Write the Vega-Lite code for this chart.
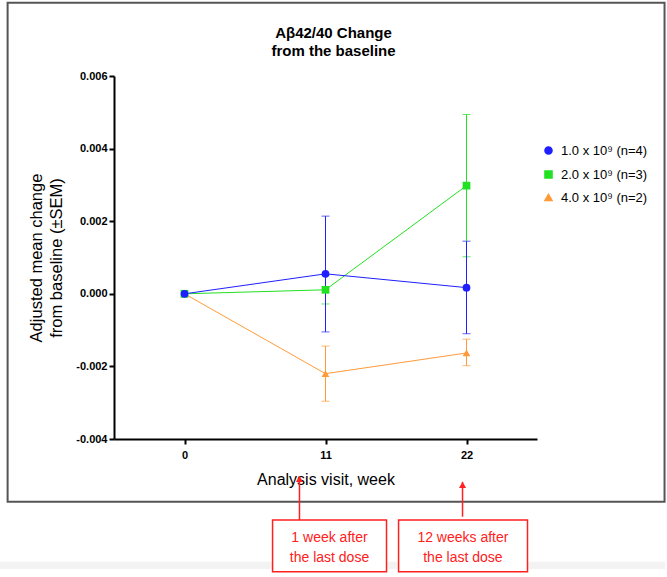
{
  "$schema": "https://vega.github.io/schema/vega-lite/v6.json",
  "autosize": "none",
  "width": 423,
  "height": 363,
  "padding": {"left": 114, "top": 76, "right": 130, "bottom": 134},
  "background": "white",
  "config": {
    "view": {"stroke": null},
    "font": "Liberation Sans",
    "axis": {
      "domainColor": "black", "domainWidth": 2, "tickColor": "black", "tickWidth": 2, "tickSize": 5,
      "labelFont": "Liberation Sans", "labelFontWeight": "bold", "labelFontSize": 11, "labelColor": "black",
      "titleFont": "Liberation Sans", "titleFontWeight": "normal", "titleFontSize": 16, "titleColor": "black",
      "grid": false
    }
  },
  "title": {
    "text": ["Aβ42/40 Change", "from the baseline"],
    "fontSize": 15, "fontWeight": "bold", "font": "Liberation Sans", "color": "black",
    "anchor": "middle", "offset": -57, "dx": 8, "lineHeight": 18
  },
  "datasets": {
    "series": [
      {"group": "4.0 x 10⁹ (n=2)", "week": 0, "mean": 0, "lo": 0, "hi": 0},
      {"group": "4.0 x 10⁹ (n=2)", "week": 11, "mean": -0.0022, "lo": -0.00296, "hi": -0.00144},
      {"group": "4.0 x 10⁹ (n=2)", "week": 22, "mean": -0.00163, "lo": -0.00198, "hi": -0.00125},
      {"group": "2.0 x 10⁹ (n=3)", "week": 0, "mean": 0, "lo": 0, "hi": 0},
      {"group": "2.0 x 10⁹ (n=3)", "week": 11, "mean": 0.00011, "lo": -0.00028, "hi": 0.0005},
      {"group": "2.0 x 10⁹ (n=3)", "week": 22, "mean": 0.00298, "lo": 0.00102, "hi": 0.00494},
      {"group": "1.0 x 10⁹ (n=4)", "week": 0, "mean": 0, "lo": 0, "hi": 0},
      {"group": "1.0 x 10⁹ (n=4)", "week": 11, "mean": 0.00055, "lo": -0.00105, "hi": 0.00214},
      {"group": "1.0 x 10⁹ (n=4)", "week": 22, "mean": 0.00017, "lo": -0.0011, "hi": 0.00145}
    ],
    "frame": [
      {"x": -13.8, "x2": 37.45, "y": 0.00802, "y2": -0.00573}
    ],
    "strip": [
      {"x": -16, "x2": 37.5, "y": -0.00738, "y2": -0.00758}
    ],
    "boxes": [
      {"x": 6.87, "x2": 15.76, "y": -0.00623, "y2": -0.00766, "cx": 11.31, "cy": -0.00672, "label": "1 week after\nthe last dose"},
      {"x": 16.7, "x2": 26.76, "y": -0.00623, "y2": -0.00766, "cx": 21.72, "cy": -0.00672, "label": "12 weeks after\nthe last dose"}
    ],
    "arrows": [
      {"x": 8.97, "tip": -0.00502, "base": -0.00623},
      {"x": 21.69, "tip": -0.00518, "base": -0.00614}
    ]
  },
  "layer": [
    {
      "data": {"name": "frame"},
      "mark": {"type": "rect", "fill": null, "stroke": "#555555", "strokeWidth": 2},
      "encoding": {
        "x": {"field": "x", "type": "quantitative", "scale": {"domain": [-5.5, 27.5], "nice": false, "zero": false}},
        "x2": {"field": "x2"},
        "y": {"field": "y", "type": "quantitative", "scale": {"domain": [-0.004, 0.006], "nice": false, "zero": false}},
        "y2": {"field": "y2"}
      }
    },
    {
      "data": {"name": "strip"},
      "mark": {"type": "rect", "fill": "#f3f3f3", "stroke": null},
      "encoding": {
        "x": {"field": "x", "type": "quantitative"},
        "x2": {"field": "x2"},
        "y": {"field": "y", "type": "quantitative"},
        "y2": {"field": "y2"}
      }
    },
    {
      "data": {"name": "series"},
      "transform": [{"filter": "datum.week > 0"}],
      "mark": {"type": "errorbar", "ticks": {"size": 8, "thickness": 1}, "thickness": 1},
      "encoding": {
        "x": {"field": "week", "type": "quantitative", "title": "Analysis visit, week"},
        "y": {"field": "lo", "type": "quantitative", "title": ["Adjusted mean change", "from baseline (±SEM)"]},
        "y2": {"field": "hi"},
        "color": {"field": "group", "type": "nominal"}
      }
    },
    {
      "data": {"name": "series"},
      "mark": {"type": "line", "strokeWidth": 1},
      "encoding": {
        "x": {"field": "week", "type": "quantitative", "title": "Analysis visit, week",
          "axis": {"values": [0, 11, 22], "titlePadding": 11, "labelPadding": 5}},
        "y": {"field": "mean", "type": "quantitative", "title": ["Adjusted mean change", "from baseline (±SEM)"],
          "axis": {"values": [-0.004, -0.002, 0, 0.002, 0.004, 0.006], "labelExpr": "replace(format(datum.value, '.3f'), '−', '-')", "titlePadding": 11, "titleLineHeight": 20, "titleFontSize": 16.5}},
        "color": {"field": "group", "type": "nominal"}
      }
    },
    {
      "data": {"name": "series"},
      "mark": {"type": "point", "filled": true, "opacity": 1, "size": 60},
      "encoding": {
        "x": {"field": "week", "type": "quantitative", "title": "Analysis visit, week"},
        "y": {"field": "mean", "type": "quantitative", "title": ["Adjusted mean change", "from baseline (±SEM)"]},
        "color": {"field": "group", "type": "nominal",
          "scale": {"domain": ["1.0 x 10⁹ (n=4)", "2.0 x 10⁹ (n=3)", "4.0 x 10⁹ (n=2)"], "range": ["#1f1fff", "#22e022", "#ff9a3a"]},
          "legend": {"orient": "none", "legendX": 428, "legendY": 68, "title": null, "labelFontSize": 13, "labelFont": "Liberation Sans", "labelColor": "black", "symbolSize": 50, "symbolOpacity": 1, "rowPadding": 9, "labelOffset": 6,
            "encode": {"symbols": {"update": {"opacity": {"value": 1}, "fillOpacity": {"value": 1}, "strokeOpacity": {"value": 1}}}}}},
        "shape": {"field": "group", "type": "nominal",
          "scale": {"domain": ["1.0 x 10⁹ (n=4)", "2.0 x 10⁹ (n=3)", "4.0 x 10⁹ (n=2)"], "range": ["circle", "square", "triangle-up"]},
          "legend": {"orient": "none", "legendX": 428, "legendY": 68, "title": null, "labelFontSize": 13, "labelFont": "Liberation Sans", "labelColor": "black", "symbolSize": 50, "symbolOpacity": 1, "rowPadding": 9, "labelOffset": 6,
            "encode": {"symbols": {"update": {"opacity": {"value": 1}, "fillOpacity": {"value": 1}, "strokeOpacity": {"value": 1}}}}}}
      }
    },
    {
      "data": {"name": "arrows"},
      "mark": {"type": "rule", "color": "#ff2020", "strokeWidth": 1.5},
      "encoding": {
        "x": {"field": "x", "type": "quantitative"},
        "y": {"field": "tip", "type": "quantitative"},
        "y2": {"field": "base"}
      }
    },
    {
      "data": {"name": "arrows"},
      "mark": {"type": "point", "shape": "triangle-up", "filled": true, "color": "#ff2020", "size": 50, "opacity": 1, "yOffset": 3},
      "encoding": {
        "x": {"field": "x", "type": "quantitative"},
        "y": {"field": "tip", "type": "quantitative"}
      }
    },
    {
      "data": {"name": "boxes"},
      "mark": {"type": "rect", "fill": "white", "stroke": "#ff2020", "strokeWidth": 1.5},
      "encoding": {
        "x": {"field": "x", "type": "quantitative"},
        "x2": {"field": "x2"},
        "y": {"field": "y", "type": "quantitative"},
        "y2": {"field": "y2"}
      }
    },
    {
      "data": {"name": "boxes"},
      "mark": {"type": "text", "color": "#ff2020", "fontSize": 14, "font": "Liberation Sans", "lineBreak": "\n", "lineHeight": 20, "align": "center", "baseline": "middle"},
      "encoding": {
        "x": {"field": "cx", "type": "quantitative"},
        "y": {"field": "cy", "type": "quantitative"},
        "text": {"field": "label"}
      }
    }
  ]
}
